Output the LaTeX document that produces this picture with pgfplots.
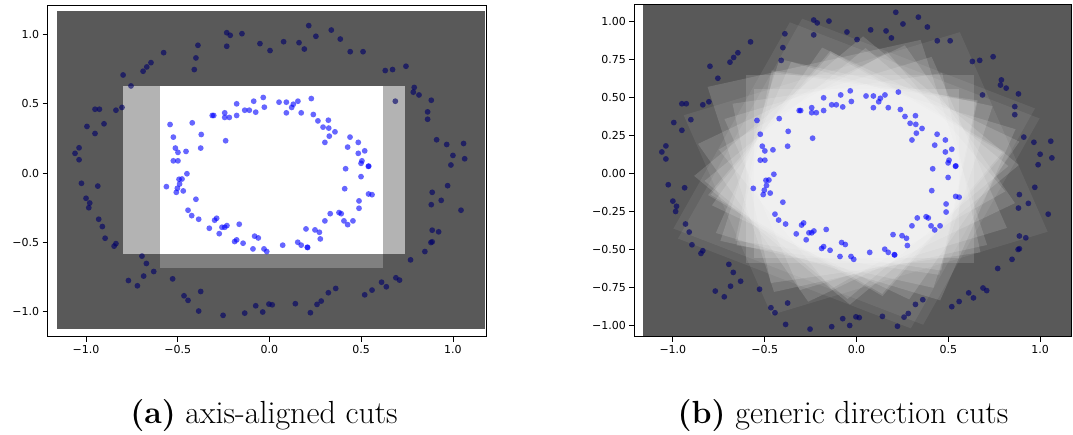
\documentclass[border=0pt]{standalone}
\usepackage{fontspec}
\usepackage{pgfplots}
\usepackage{pgfplotstable}
\pgfplotsset{compat=1.18}
\newfontfamily\dejavu{DejaVu Sans}
\definecolor{bgdark}{RGB}{89,89,89}
\definecolor{bglight}{RGB}{179,179,179}
\definecolor{bgmid}{RGB}{128,128,128}
\definecolor{outerc}{RGB}{0,0,105}

\pgfplotstableread{
x y
-0.034 0.545
-0.028 0.475
-0.086 0.518
-0.075 0.439
-0.135 0.453
-0.110 0.453
-0.179 0.499
-0.179 0.415
-0.244 0.434
-0.244 0.401
-0.219 0.401
-0.312 0.415
-0.304 0.415
-0.239 0.233
-0.421 0.362
-0.372 0.278
-0.375 0.180
-0.542 0.350
-0.524 0.259
-0.513 0.180
-0.499 0.149
-0.455 0.156
-0.524 0.088
-0.499 0.088
-0.450 -0.005
0.052 0.511
0.092 0.511
0.130 0.496
0.121 0.473
0.155 0.518
0.092 0.434
0.173 0.434
0.228 0.537
0.239 0.422
0.264 0.376
0.321 0.381
0.292 0.331
0.323 0.324
0.357 0.297
0.326 0.266
0.302 0.221
0.439 0.259
0.484 0.221
0.426 0.187
0.519 0.160
0.484 0.142
0.504 0.088
0.499 0.070
0.539 0.048
0.541 0.050
0.415 0.031
0.499 -0.026
0.410 -0.113
0.540 -0.151
0.559 -0.156
0.488 -0.201
0.488 -0.254
0.331 -0.293
0.379 -0.285
0.391 -0.293
0.302 -0.345
0.406 -0.345
0.455 -0.345
0.426 -0.372
0.199 -0.403
0.248 -0.410
0.272 -0.427
0.277 -0.475
0.154 -0.499
0.173 -0.520
0.206 -0.535
0.208 -0.537
0.072 -0.520
-0.493 -0.045
-0.477 -0.043
-0.490 -0.079
-0.562 -0.098
-0.502 -0.110
-0.508 -0.139
-0.470 -0.129
-0.401 -0.189
-0.444 -0.268
-0.424 -0.307
-0.386 -0.333
-0.299 -0.340
-0.288 -0.326
-0.328 -0.398
-0.274 -0.437
-0.259 -0.391
-0.244 -0.391
-0.232 -0.379
-0.165 -0.369
-0.190 -0.494
-0.179 -0.482
-0.144 -0.506
-0.090 -0.547
-0.081 -0.455
-0.061 -0.468
-0.030 -0.547
-0.015 -0.566
}\innerpts

\pgfplotstableread{
x y
-0.233 1.012
-0.214 0.993
-0.150 1.005
-0.052 0.933
0.003 0.883
-0.390 0.921
-0.233 0.914
-0.401 0.830
-0.410 0.746
-0.577 0.868
-0.646 0.796
-0.669 0.765
-0.689 0.734
-0.798 0.707
-0.755 0.628
-0.804 0.473
-0.837 0.453
-0.902 0.355
-0.951 0.460
-0.927 0.460
-0.995 0.336
-0.951 0.285
-1.038 0.182
-1.060 0.142
-1.038 0.096
0.077 0.947
0.161 0.940
0.190 0.894
0.214 1.063
0.253 0.986
0.337 1.031
0.386 0.966
0.440 0.875
0.510 0.875
0.631 0.739
0.671 0.746
0.744 0.770
0.789 0.617
0.784 0.583
0.815 0.563
0.686 0.518
0.882 0.525
0.862 0.441
0.862 0.388
0.911 0.240
0.966 0.206
1.058 0.213
1.000 0.127
1.064 0.103
0.989 0.058
0.971 -0.091
0.887 -0.139
0.936 -0.197
0.882 -0.228
1.044 -0.268
0.887 -0.412
0.922 -0.424
0.887 -0.496
0.880 -0.501
0.847 -0.566
0.769 -0.626
0.689 -0.755
0.709 -0.772
0.611 -0.787
0.637 -0.820
0.559 -0.844
0.519 -0.878
0.361 -0.832
0.321 -0.863
0.282 -0.923
0.259 -0.947
0.223 -1.007
0.141 -0.942
0.015 -0.950
-0.003 -0.945
-1.025 -0.074
-0.936 -0.094
-1.000 -0.182
-0.980 -0.216
-0.985 -0.250
-0.931 -0.333
-0.911 -0.386
-0.896 -0.470
-0.837 -0.509
-0.847 -0.527
-0.695 -0.599
-0.671 -0.652
-0.631 -0.710
-0.686 -0.743
-0.769 -0.775
-0.720 -0.813
-0.528 -0.763
-0.375 -0.854
-0.466 -0.885
-0.444 -0.918
-0.386 -0.995
-0.253 -1.026
-0.135 -1.010
-0.075 -0.957
-0.037 -1.002
}\outerpts

\pgfplotsset{
  common/.style={
    scale only axis, anchor=south west, axis on top,
    tick align=outside, tick pos=left,
    major tick length=5pt,
    axis line style={line width=0.8pt},
    every tick/.style={line width=0.8pt, black},
    tick label style={font=\dejavu\fontsize{11}{13}\selectfont},
    xtick={-1,-0.5,0,0.5,1},
    xticklabels={−1.0,−0.5,0.0,0.5,1.0},
  },
  innerstyle/.style={only marks, mark=*, mark size=2.9pt, color=blue,
    mark options={draw opacity=0, fill=blue, fill opacity=0.6}},
  outerstyle/.style={only marks, mark=*, mark size=2.9pt, color=outerc,
    mark options={draw opacity=0, fill=outerc, fill opacity=0.62}},
  cut/.style={draw=none, fill=white, fill opacity=0.14, forget plot},
  bigcut/.style={draw=none, fill=white, fill opacity=0.07, forget plot},
}

\begin{document}
\begin{tikzpicture}[x=1pt,y=1pt]
\useasboundingbox (0,0) rectangle (1073,434);
% ---------- (a) ----------
\begin{axis}[common, at={(47.7pt,97.3pt)}, width=438.8pt, height=331.2pt,
  xmin=-1.209, xmax=1.183, ymin=-1.180, ymax=1.208,
  ytick={-1,-0.5,0,0.5,1},
  yticklabels={−1.0,−0.5,0.0,0.5,1.0}]
\addplot[draw=none, fill=bgdark] coordinates {(-1.160,-1.124) (1.175,-1.124) (1.175,1.165) (-1.160,1.165)} -- cycle;
\addplot[draw=none, fill=bglight] coordinates {(-0.798,-0.583) (0.738,-0.583) (0.738,0.626) (-0.798,0.626)} -- cycle;
\addplot[draw=none, fill=white] coordinates {(-0.598,-0.583) (0.620,-0.583) (0.620,0.626) (-0.598,0.626)} -- cycle;
\addplot[draw=none, fill=bgmid] coordinates {(-0.598,-0.688) (0.620,-0.688) (0.620,-0.583) (-0.598,-0.583)} -- cycle;
\addplot[outerstyle] table {\outerpts};
\addplot[innerstyle] table {\innerpts};
\end{axis}
% ---------- (b) ----------
\begin{axis}[common, at={(634.3pt,97.3pt)}, width=437.4pt, height=332pt,
  xmin=-1.210, xmax=1.172, ymin=-1.076, ymax=1.113,
  ytick={-1,-0.75,-0.5,-0.25,0,0.25,0.5,0.75,1},
  yticklabels={−1.00,−0.75,−0.50,−0.25,0.00,0.25,0.50,0.75,1.00}]
\addplot[draw=none, fill=bgdark] coordinates {(-1.161,-1.069) (1.168,-1.069) (1.168,1.113) (-1.161,1.113)} -- cycle;
\addplot[bigcut] coordinates {(0.563,0.932) (-0.941,0.384) (-0.463,-0.932) (1.041,-0.384)} -- cycle;
\addplot[bigcut] coordinates {(0.997,0.363) (-0.363,0.997) (-0.997,-0.363) (0.363,-0.997)} -- cycle;
\addplot[bigcut] coordinates {(-0.296,1.021) (-0.972,-0.429) (0.296,-1.021) (0.972,0.429)} -- cycle;
\addplot[cut] coordinates {(-0.60,-0.59) (0.64,-0.59) (0.64,0.65) (-0.60,0.65)} -- cycle;
\addplot[cut] coordinates {(0.263,0.845) (-0.863,0.195) (-0.263,-0.845) (0.863,-0.195)} -- cycle;
\addplot[cut] coordinates {(-0.187,0.83) (-0.787,-0.21) (0.287,-0.83) (0.887,0.21)} -- cycle;
\addplot[cut] coordinates {(0.349,0.881) (-0.811,0.571) (-0.449,-0.781) (0.711,-0.471)} -- cycle;
\addplot[cut] coordinates {(0.049,0.827) (-0.827,-0.049) (-0.049,-0.827) (0.827,0.049)} -- cycle;
\addplot[cut] coordinates {(0.866,0.292) (-0.356,0.736) (-0.766,-0.392) (0.456,-0.836)} -- cycle;
\addplot[cut] coordinates {(0.884,0.056) (0.036,0.904) (-0.884,-0.016) (-0.036,-0.864)} -- cycle;
\addplot[cut] coordinates {(-0.419,0.754) (-0.741,-0.444) (0.419,-0.754) (0.741,0.444)} -- cycle;
\addplot[cut] coordinates {(0.819,-0.359) (0.409,0.769) (-0.719,0.359) (-0.309,-0.769)} -- cycle;
\addplot[cut] coordinates {(0.467,0.662) (-0.675,0.46) (-0.467,-0.722) (0.675,-0.52)} -- cycle;
\addplot[cut] coordinates {(0.168,0.800) (-0.75,0.158) (-0.138,-0.760) (0.81,-0.118)} -- cycle;
\addplot[cut] coordinates {(0.808,0.142) (-0.142,0.808) (-0.808,-0.142) (0.142,-0.808)} -- cycle;
\addplot[cut] coordinates {(-0.56,-0.56) (0.56,-0.56) (0.56,0.56) (-0.56,0.56)} -- cycle;
\addplot[cut] coordinates {(-0.14,0.794) (-0.794,-0.14) (0.14,-0.794) (0.794,0.14)} -- cycle;
\addplot[cut] coordinates {(0.66,0.482) (-0.462,0.68) (-0.66,-0.442) (0.462,-0.64)} -- cycle;
\addplot[cut] coordinates {(-0.451,0.668) (-0.653,-0.474) (0.451,-0.668) (0.653,0.474)} -- cycle;
\addplot[outerstyle] table {\outerpts};
\addplot[innerstyle] table {\innerpts};
\end{axis}
% ---------- captions ----------
\node[anchor=base, inner sep=0pt, font=\fontsize{32}{38}\selectfont] at (264,11) {\textbf{(a)} axis-aligned cuts};
\node[anchor=base, inner sep=0pt, font=\fontsize{32}{38}\selectfont] at (843,11) {\textbf{(b)} generic direction cuts};
\end{tikzpicture}
\end{document}
